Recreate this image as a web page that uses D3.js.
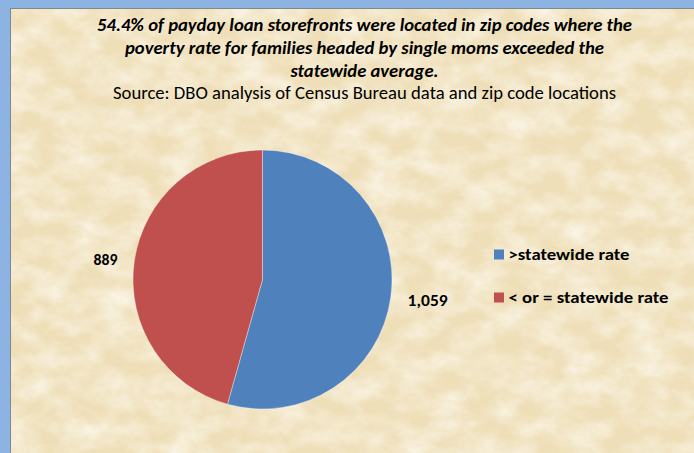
<!DOCTYPE html>
<html>
<head>
<meta charset="utf-8">
<script src="https://cdn.jsdelivr.net/npm/d3@7"></script>
<style>
  html, body { margin: 0; padding: 0; background: #8db3e2; }
  svg { display: block; }
  text { font-family: Calibri, Carlito, Lato, sans-serif; fill: #000; }
</style>
</head>
<body>
<div id="chart"></div>
<script>
const categories = ['>statewide rate', '< or = statewide rate'];
const values = [1059, 889];
const valueLabels = ['1,059', '889'];
const colors = ['#4f81bd', '#c0504d'];
const titleLines = [
  '54.4% of payday loan storefronts were located in zip codes where the',
  'poverty rate for families headed by single moms exceeded the',
  'statewide average.',
];
const sourceLine = 'Source: DBO analysis of Census Bureau data and zip code locations';

const width = 694;
const height = 453;

const svg = d3.select('#chart').append('svg')
  .attr('width', width).attr('height', height);

// parchment texture
const defs = svg.append('defs');
const paper = defs.append('filter').attr('id', 'paper')
  .attr('x', 0).attr('y', 0).attr('width', '100%').attr('height', '100%');
paper.append('feTurbulence').attr('type', 'fractalNoise')
  .attr('baseFrequency', '0.03 0.045').attr('numOctaves', 4).attr('seed', 7).attr('result', 'n');
paper.append('feColorMatrix').attr('in', 'n').attr('type', 'matrix')
  .attr('values', '0 0 0 0 1  0 0 0 0 0.98  0 0 0 0 0.92  1.3 0 0 0 -0.42');

const speck = defs.append('filter').attr('id', 'speck')
  .attr('x', 0).attr('y', 0).attr('width', '100%').attr('height', '100%');
speck.append('feTurbulence').attr('type', 'fractalNoise')
  .attr('baseFrequency', '0.12 0.16').attr('numOctaves', 3).attr('seed', 2).attr('result', 'n');
speck.append('feColorMatrix').attr('in', 'n').attr('type', 'matrix')
  .attr('values', '0 0 0 0 0.82  0 0 0 0 0.7  0 0 0 0 0.5  0 1.2 0 0 -0.5');

svg.append('rect').attr('width', width).attr('height', height).attr('fill', '#8db3e2');
svg.append('rect').attr('x', 10).attr('y', 8).attr('width', width - 10).attr('height', height - 8)
  .attr('fill', '#7f8790');
const bg = svg.append('g');
bg.append('rect').attr('x', 11).attr('y', 9).attr('width', width - 11).attr('height', height - 9)
  .attr('fill', '#efdfb8');
bg.append('rect').attr('x', 11).attr('y', 9).attr('width', width - 11).attr('height', height - 9)
  .attr('filter', 'url(#paper)');
bg.append('rect').attr('x', 11).attr('y', 9).attr('width', width - 11).attr('height', height - 9)
  .attr('filter', 'url(#speck)').attr('opacity', 0.35);

// title
const titleX = 364.5;
const titleWidths = [535, 479, 148];
titleLines.forEach((line, i) => {
  svg.append('text').attr('x', titleX).attr('y', 31 + i * 22.8)
    .attr('text-anchor', 'middle').attr('font-size', 17.5)
    .attr('font-weight', 700).attr('font-style', 'italic')
    .attr('textLength', titleWidths[i]).attr('lengthAdjust', 'spacingAndGlyphs')
    .text(line);
});
svg.append('text').attr('x', titleX).attr('y', 99.3)
  .attr('text-anchor', 'middle').attr('font-size', 17.5)
  .attr('textLength', 503).attr('lengthAdjust', 'spacingAndGlyphs')
  .text(sourceLine);

// pie
const cx = 262.5;
const cy = 279.5;
const radius = 129.5;
const pie = d3.pie().sort(null).value((d) => d)(values);
const arc = d3.arc().innerRadius(0).outerRadius(radius);

const g = svg.append('g').attr('transform', `translate(${cx},${cy})`);
g.selectAll('path').data(pie).join('path')
  .attr('d', arc)
  .attr('fill', (d, i) => colors[i])
  .attr('stroke', 'rgba(255,255,255,0.45)').attr('stroke-width', 0.8);

const labelWidths = [40, 24];
pie.forEach((d, i) => {
  const a = (d.startAngle + d.endAngle) / 2;
  const r = radius + 17;
  const x = Math.sin(a) * r;
  const y = -Math.cos(a) * r;
  g.append('text')
    .attr('x', x).attr('y', y + 6)
    .attr('text-anchor', x > 0 ? 'start' : 'end')
    .attr('font-size', 16).attr('font-weight', 700)
    .attr('textLength', labelWidths[i]).attr('lengthAdjust', 'spacingAndGlyphs')
    .text(valueLabels[i]);
});

// legend
const legendY = d3.scalePoint().domain(categories).range([249.5, 292.5]);
const legendWidths = [121, 160];
const legend = svg.append('g').attr('transform', 'translate(494,0)');
categories.forEach((c, i) => {
  legend.append('rect').attr('x', 0).attr('y', legendY(c))
    .attr('width', 10).attr('height', 10).attr('fill', colors[i]);
  legend.append('text').attr('x', 14.5).attr('y', legendY(c) + 10)
    .attr('font-size', 15.5).attr('font-weight', 700)
    .attr('textLength', legendWidths[i]).attr('lengthAdjust', 'spacingAndGlyphs')
    .text(c);
});
</script>
</body>
</html>
